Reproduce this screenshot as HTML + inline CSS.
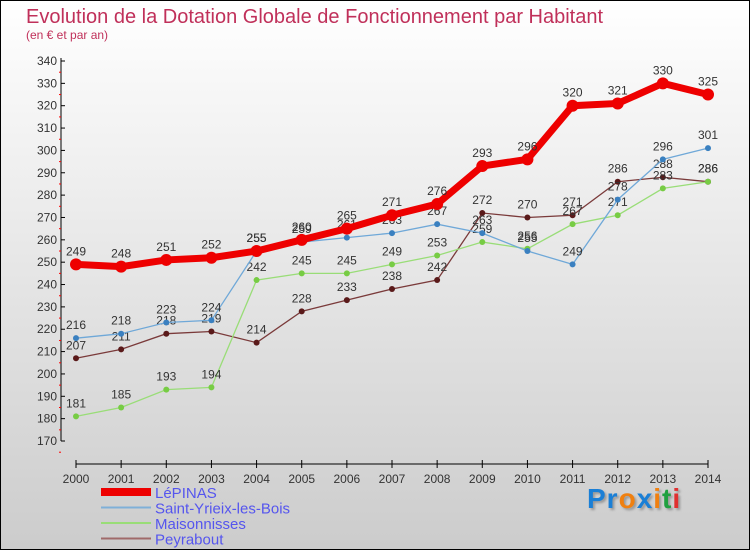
<!DOCTYPE html>
<html><head><meta charset="utf-8"><style>
body{margin:0}
#c{width:748px;height:548px;border:1px solid #000;background:linear-gradient(#fff,#ccc);position:relative;font-family:"Liberation Sans",sans-serif;overflow:hidden}
</style></head><body>
<div id="c">
<svg id="s" width="748" height="548" xmlns="http://www.w3.org/2000/svg">
<text x="25" y="22" font-size="20" fill="#c0305a">Evolution de la Dotation Globale de Fonctionnement par Habitant</text>
<text x="25" y="38" font-size="12" fill="#c0305a">(en € et par an)</text>
</svg>
<div style="position:absolute;left:586px;top:482px;font-size:28px;font-weight:bold;letter-spacing:1px;text-shadow:2px 2px 2px #999"><span style="color:#1a7fd6">Pr</span><span style="color:#f08010">o</span><span style="color:#1a7fd6">x</span><span style="color:#f08010">i</span><span style="color:#20a040">t</span><span style="color:#e03030">i</span></div>
</div>
<script>
const years=[2000,2001,2002,2003,2004,2005,2006,2007,2008,2009,2010,2011,2012,2013,2014];
const yTicks=[170,180,190,200,210,220,230,240,250,260,270,280,290,300,310,320,330,340];
const lepinas=[249,248,251,252,255,260,265,271,276,293,296,320,321,330,325];
const saintYrieix=[216,218,223,224,255,259,261,263,267,263,255,249,278,296,301];
const maisonnisses=[181,185,193,194,242,245,245,249,253,259,256,267,271,283,286];
const peyrabout=[207,211,218,219,214,228,233,238,242,272,270,271,286,288,286];
const NS="http://www.w3.org/2000/svg",s=document.getElementById('s');
const xs=i=>75+i*(632/14), ys=v=>440-(v-170)*380/170;
function el(t,a,p){const e=document.createElementNS(NS,t);for(const k in a)e.setAttribute(k,a[k]);(p||s).appendChild(e);return e;}
let ax=el('line',{x1:60,y1:57,x2:60,y2:440,stroke:'#000'});


yTicks.forEach(v=>{const y=ys(v);
 el('line',{x1:60,y1:y,x2:64,y2:y,stroke:'#000'});
 el('line',{x1:58,y1:y+11.2,x2:60,y2:y+11.2,stroke:'red'});
 const t=el('text',{x:56,y:y+4,'font-size':12,'text-anchor':'end',fill:'#333'});t.textContent=v;
 
 
});
let xa=el('line',{x1:75,y1:463,x2:707,y2:463,stroke:'#000'});


years.forEach((yr,i)=>{const x=xs(i);
 el('line',{x1:x,y1:459,x2:x,y2:467,stroke:'#000'});
 const t=el('text',{x:x,y:482,'font-size':12,'text-anchor':'middle',fill:'#333'});t.textContent=yr;
 
 
});
function series(d,color,dot,w,r,name){
 const g=el('g',{});
 
 
 el('polyline',{points:d.map((v,i)=>xs(i)+','+ys(v)).join(' '),fill:'none',stroke:color,'stroke-width':w},g);
 d.forEach((v,i)=>{const c=el('circle',{cx:xs(i),cy:ys(v),r:r,fill:dot},g);
  
  
  const t=el('text',{x:xs(i),y:ys(v)-9,'font-size':12,'text-anchor':'middle',fill:'#333'},g);t.textContent=v;
  
  
 });
}
series(peyrabout,'#7a3a3a','#5a1a1a',1.3,3,'peyrabout');
series(maisonnisses,'#99dd77','#77cc44',1.3,3,'maisonnisses');
series(saintYrieix,'#6fa8d8','#3a80c0',1.3,3,'saint-yrieix');
series(lepinas,'#ee0000','#ee0000',7,6,'lepinas');
const leg=[['LéPINAS','#ee0000',8],['Saint-Yrieix-les-Bois','#7fb0d8',2],['Maisonnisses','#99dd77',2],['Peyrabout','#a06a6a',2]];
leg.forEach((l,i)=>{const y=491+i*15.5;
 const ln=el('line',{x1:100,y1:y,x2:150,y2:y,stroke:l[1],'stroke-width':l[2]});
 
 
 const t=el('text',{x:154,y:y+6,'font-size':15,fill:'#5555ee'});t.textContent=l[0];
 
 
});
</script>
</body></html>
